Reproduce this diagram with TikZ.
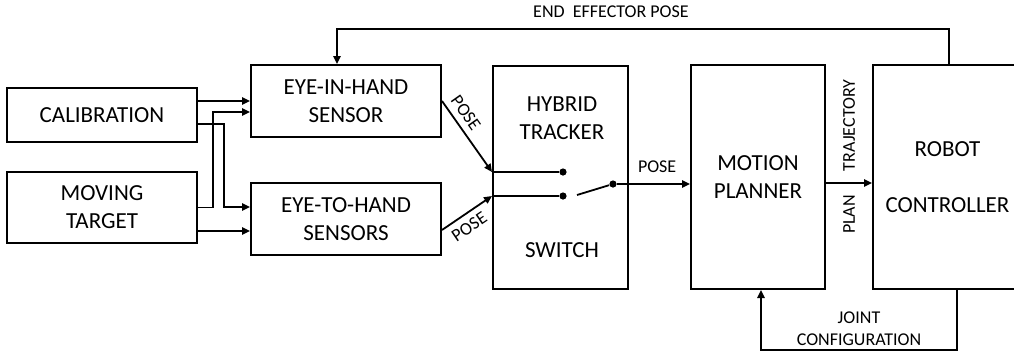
\documentclass[tikz,border=0pt]{standalone}
\usepackage{fontspec}
\setmainfont{Carlito}
\usetikzlibrary{
  arrows.meta,
  calc
}
\tikzset{
  blocknode/.style={draw,line width=1pt,inner sep=0pt,align=center,font=\fontsize{11.5}{14}\selectfont},
  blocktext/.style={align=center,inner sep=0pt,font=\fontsize{11.5}{14}\selectfont},
  flowarrow/.style={-{Triangle[length=4pt,width=3.6pt]},line width=0.9pt},
  flowline/.style={line width=0.9pt},
  smalllabel/.style={font=\fontsize{9}{11}\selectfont,align=center,inner sep=1pt},
  contact/.style={circle,fill,inner sep=0pt,minimum size=3.6pt}
}

\begin{document}
\begin{tikzpicture}[x=0.5pt,y=-0.5pt]
\useasboundingbox (0,0) rectangle (1014,360);
\clip (0,0) rectangle (1014,360);
\node[blocknode,minimum width=95pt,minimum height=27pt] (calib) at (102,115) {CALIBRATION};
\node[blocknode,minimum width=95pt,minimum height=35.5pt] (target) at (102,207.5) {MOVING\\TARGET};
\node[blocknode,minimum width=95pt,minimum height=36pt] (inhand) at (346,101) {EYE-IN-HAND\\SENSOR};
\node[blocknode,minimum width=95pt,minimum height=36pt] (tohand) at (346,219) {EYE-TO-HAND\\SENSORS};
\node[blocknode,minimum width=67.5pt,minimum height=111.5pt] (tracker) at (560.5,177.5) {};
\node[blocknode,minimum width=67pt,minimum height=112pt] (planner) at (758,177) {MOTION\\PLANNER};
\node[blocknode,minimum width=74.5pt,minimum height=112pt] (robot) at (947.5,177) {ROBOT\\[14pt]CONTROLLER};
\node[blocktext] (hybrid) at ($(tracker.north)+(1.5,53)$) {HYBRID\\TRACKER};
\node[blocktext] (switch) at ($(tracker.south)+(1.5,-40)$) {SWITCH};

% switch contacts
\coordinate (in1) at ($(tracker.west)+(0,-5.5)$);
\coordinate (in2) at ($(tracker.west)+(0,18.5)$);
\node[contact] (c1) at ($(in1)+(71,0)$) {};
\node[contact] (c2) at ($(in2)+(71,0)$) {};
\node[contact] (pivot) at (613,184) {};
\draw[flowline] (in1) -- (c1);
\draw[flowline] (in2) -- (c2);
\draw[flowline] ($(c2)+(14,-1)$) -- (pivot);

\draw[flowarrow] (calib.east |- inhand.west) -- (inhand.west);
\draw[flowarrow] ($(calib.east)+(0,9)$) -- ++(26,0) |- ($(tohand.west)+(0,-12)$);
\draw[flowarrow] (target.east) -- ++(15,0) |- ($(inhand.west)+(0,11)$);
\draw[flowarrow] ($(target.east)+(0,23.5)$) -- ($(tohand.west)+(0,12)$);
\draw[flowarrow] (inhand.east) -- node[smalllabel,sloped,above=2pt,pos=0.27] {POSE} (in1);
\draw[flowarrow] ($(tohand.east)+(0,11)$) -- node[smalllabel,sloped,below=2pt,pos=0.4] {POSE} (in2);
\draw[flowarrow] (pivot) -- node[smalllabel,above=4pt,pos=0.55] {POSE} (pivot -| planner.west);
\draw[flowarrow] ($(planner.east)+(0,6)$) -- node[smalllabel,rotate=90,anchor=west,outer sep=5pt] {TRAJECTORY} node[smalllabel,rotate=90,anchor=east,outer sep=5pt] {PLAN} ($(robot.west)+(0,6)$);

% feedback loops
\draw[flowarrow] ($(robot.north)+(1.5,0)$) -- ++(0,-35) -| ($(inhand.north)+(-9,0)$);
\node[smalllabel] (eep) at (611,12) {END\ \ EFFECTOR POSE};
\draw[flowarrow] ($(robot.south)+(9.5,0)$) -- ++(0,60) -| ($(planner.south)+(3,0)$);
\node[smalllabel] (jointcfg) at (859,329) {JOINT\\CONFIGURATION};
\end{tikzpicture}
\end{document}
